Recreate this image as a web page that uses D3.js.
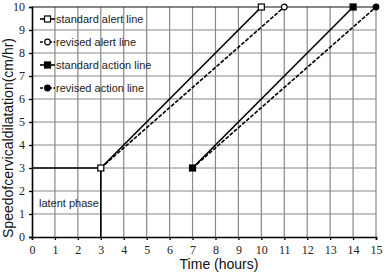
<!DOCTYPE html>
<html><head><meta charset="utf-8">
<script src="https://cdn.jsdelivr.net/npm/d3@7"></script>
<style>body{margin:0;background:#fff}svg{display:block}</style>
</head><body>
<script>
const xTicks = d3.range(0, 16);
const yTicks = d3.range(0, 11);
const latent = [[0,3],[3,3]];
const latentVertical = [[3,0],[3,3]];
const standardAlert = [[3,3],[10,10]];
const revisedAlert = [[3,3],[11,10]];
const standardAction = [[7,3],[14,10]];
const revisedAction = [[7,3],[15,10]];
const seriesNames = ["standard alert line","revised alert line","standard action line","revised action line"];

const W = 385, H = 274;
const m = {l:32, r:9, t:7, b:37};
const svg = d3.select("body").append("svg").attr("width", W).attr("height", H);
const x = d3.scaleLinear().domain([0,15]).range([m.l, W - m.r]);
const y = d3.scaleLinear().domain([0,10]).range([H - m.b, m.t]);

// grid
svg.append("g").selectAll("line").data(xTicks.slice(1)).join("line")
  .attr("x1", d=>x(d)).attr("x2", d=>x(d)).attr("y1", y(0)).attr("y2", y(10))
  .attr("stroke", "#888").attr("stroke-width", 1.2);
svg.append("g").selectAll("line").data(yTicks.slice(1)).join("line")
  .attr("x1", x(0)).attr("x2", x(15)).attr("y1", d=>y(d)).attr("y2", d=>y(d))
  .attr("stroke", d=>d===10?"#111":"#888").attr("stroke-width", 1.2);

// axes
const xAxis = svg.append("g").attr("transform", `translate(0,${y(0)})`)
  .call(d3.axisBottom(x).tickValues(xTicks).tickSize(3).tickPadding(5).tickFormat(d3.format("d")));
const yAxis = svg.append("g").attr("transform", `translate(${x(0)},0)`)
  .call(d3.axisLeft(y).tickValues(yTicks).tickSize(3).tickPadding(4).tickFormat(d3.format("d")));
[xAxis, yAxis].forEach(g => {
  g.select(".domain").attr("stroke", "#000").attr("stroke-width", 1.6);
  g.selectAll(".tick line").attr("stroke", "#000").attr("stroke-width", 1.3);
  g.selectAll("text").attr("font-family", "Liberation Serif, Times New Roman, serif").attr("font-size", 12).attr("fill", "#222");
});

const line = d3.line().x(d=>x(d[0])).y(d=>y(d[1]));
const drawLine = (data, dashed) => svg.append("path").datum(data).attr("d", line)
  .attr("fill", "none").attr("stroke", "#000").attr("stroke-width", 1.6)
  .attr("stroke-dasharray", dashed ? "4,1.5" : null);
drawLine(latent, false);
drawLine(latentVertical, false);
drawLine(revisedAlert, true);
drawLine(standardAlert, false);
drawLine(revisedAction, true);
drawLine(standardAction, false);

function marker(g, type, cx, cy) {
  if (type === 0 || type === 2) {
    g.append("rect").attr("x", cx-3).attr("y", cy-3).attr("width", 6).attr("height", 6)
      .attr("fill", type===0?"#fff":"#000").attr("stroke", "#000").attr("stroke-width", 1.2);
  } else {
    g.append("circle").attr("cx", cx).attr("cy", cy).attr("r", 2.8)
      .attr("fill", type===1?"#fff":"#000").attr("stroke", "#000").attr("stroke-width", 1.2);
  }
}
const mg = svg.append("g");
marker(mg, 0, x(standardAlert[0][0]), y(standardAlert[0][1]));
marker(mg, 0, x(standardAlert[1][0]), y(standardAlert[1][1]));
marker(mg, 1, x(revisedAlert[1][0]), y(revisedAlert[1][1]));
marker(mg, 2, x(standardAction[0][0]), y(standardAction[0][1]));
marker(mg, 2, x(standardAction[1][0]), y(standardAction[1][1]));
marker(mg, 3, x(revisedAction[1][0]), y(revisedAction[1][1]));

// legend
const lg = svg.append("g");
seriesNames.forEach((name, i) => {
  const ly = 19 + i*23;
  lg.append("line").attr("x1", 40).attr("x2", 55).attr("y1", ly).attr("y2", ly)
    .attr("stroke", "#000").attr("stroke-width", 1.6)
    .attr("stroke-dasharray", i%2===1 ? "3,1.5" : null);
  marker(lg, i, 47.5, ly);
  lg.append("text").attr("x", 56).attr("y", ly + 4).text(name)
    .attr("font-family", "Liberation Sans, Arial, sans-serif").attr("font-size", 11).attr("fill", "#222");
});

svg.append("text").attr("x", 39).attr("y", 207).text("latent phase")
  .attr("font-family", "Liberation Sans, Arial, sans-serif").attr("font-size", 11).attr("fill", "#222");

svg.append("text").attr("x", 219).attr("y", 269).attr("text-anchor", "middle").text("Time (hours)")
  .attr("font-family", "Liberation Sans, Arial, sans-serif").attr("font-size", 14).attr("fill", "#111");
svg.append("text").attr("transform", `translate(13,${(y(0)+y(10))/2 + 16}) rotate(-90)`)
  .attr("text-anchor", "middle").text("Speedofcervicaldilatation(cm/hr)")
  .attr("font-family", "Liberation Sans, Arial, sans-serif").attr("font-size", 14).attr("fill", "#111");
</script>
</body></html>
